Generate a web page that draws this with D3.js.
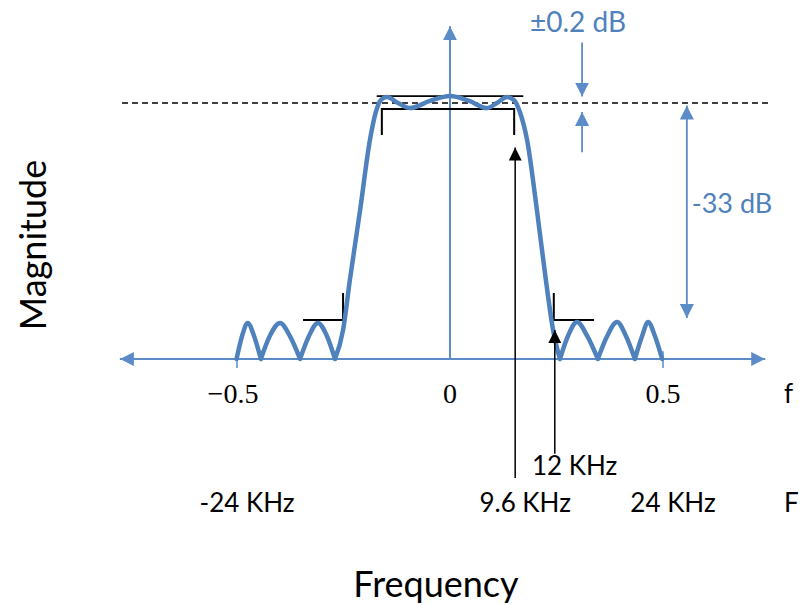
<!DOCTYPE html>
<html>
<head>
<meta charset="utf-8">
<script src="https://cdn.jsdelivr.net/npm/d3@7"></script>
<style>
  body { margin: 0; background: #fff; }
  svg { display: block; }
  .sans { font-family: Lato, "Open Sans", sans-serif; }
  .serif { font-family: "Liberation Serif", "DejaVu Serif", serif; }
</style>
</head>
<body>
<div id="chart"></div>
<script>
// normalised frequency and magnitude (1 = passband level)
const freq = [-0.501, -0.488, -0.475, -0.460, -0.444, -0.423, -0.399, -0.376, -0.352, -0.331, -0.310, -0.289, -0.270,
  -0.251, -0.235, -0.211, -0.188, -0.174, -0.162, -0.148, -0.122, -0.094, -0.047, 0, 0.045, 0.087, 0.110, 0.134,
  0.150, 0.164, 0.181, 0.204, 0.225, 0.242, 0.258, 0.277, 0.298, 0.322, 0.347, 0.369, 0.392, 0.413, 0.434,
  0.451, 0.465, 0.481, 0.498];
const mag = [0, 0.09, 0.141, 0.09, 0, 0.09, 0.141, 0.09, 0, 0.09, 0.141, 0.09, 0,
  0.113, 0.309, 0.582, 0.855, 0.965, 1.012, 1.023, 1.0, 0.98, 1.008, 1.027, 1.008, 0.98, 1.0, 1.023,
  1.012, 0.965, 0.855, 0.582, 0.309, 0.113, 0, 0.09, 0.145, 0.09, 0, 0.09, 0.145, 0.09, 0,
  0.09, 0.145, 0.09, 0];

const tickValues = [-0.5, 0, 0.5];
const tickLabels = ["\u22120.5", "0", "0.5"];
const passEdge = 0.153, stopEdge = 0.246;
const khzLabels = [{f: -0.5, text: "-24 KHz"}, {f: passEdge, text: "9.6 KHz"}, {f: 0.5, text: "24 KHz"}];

const width = 802, height = 605;
const blue = "#4F81BD", axisBlue = "#5B8CC8";

const svg = d3.select("#chart").append("svg")
  .attr("width", width).attr("height", height);

const x = d3.scaleLinear().domain([-0.5, 0.5]).range([237, 663]);
const y = d3.scaleLinear().domain([0, 1]).range([359, 103]);

const defs = svg.append("defs");
function marker(id, color, w, h) {
  defs.append("marker")
    .attr("id", id).attr("viewBox", "0 0 10 10")
    .attr("refX", 10).attr("refY", 5)
    .attr("markerUnits", "userSpaceOnUse")
    .attr("markerWidth", w).attr("markerHeight", h)
    .attr("orient", "auto-start-reverse")
    .append("path").attr("d", "M0,0L10,5L0,10Z").attr("fill", color);
}
marker("ab", axisBlue, 14, 14);
marker("bk", "#000", 13, 13);

// axes
svg.append("line")
  .attr("x1", x(-0.775)).attr("x2", x(0.74))
  .attr("y1", y(0)).attr("y2", y(0))
  .attr("stroke", axisBlue).attr("stroke-width", 2)
  .attr("marker-start", "url(#ab)").attr("marker-end", "url(#ab)");
svg.append("line")
  .attr("x1", x(0)).attr("x2", x(0))
  .attr("y1", y(0)).attr("y2", y(1.3))
  .attr("stroke", axisBlue).attr("stroke-width", 2)
  .attr("marker-end", "url(#ab)");
svg.selectAll(".tick").data([-0.5, 0.5]).join("line")
  .attr("x1", d => x(d)).attr("x2", d => x(d))
  .attr("y1", y(0.03)).attr("y2", y(-0.035))
  .attr("stroke", axisBlue).attr("stroke-width", 1.5);

svg.selectAll(".tlab").data(tickValues).join("text")
  .attr("class", "serif")
  .attr("x", d => x(d) - (d < 0 ? 4 : 0)).attr("y", 403)
  .attr("text-anchor", "middle")
  .style("font-size", "28px")
  .text((d, i) => tickLabels[i]);

// passband level
svg.append("line")
  .attr("x1", 122).attr("x2", 768)
  .attr("y1", y(1)).attr("y2", y(1))
  .attr("stroke", "#000").attr("stroke-width", 1.5)
  .attr("stroke-dasharray", "6,4");

// tolerance brackets
const k = "#000";
svg.append("line").attr("x1", x(-0.172)).attr("x2", x(0.172))
  .attr("y1", y(1.027)).attr("y2", y(1.027)).attr("stroke", k).attr("stroke-width", 1.6);
svg.append("path")
  .attr("d", `M${x(-0.160)},${y(0.875)}V${y(0.977)}H${x(passEdge) - 1}V${y(0.875)}`)
  .attr("fill", "none").attr("stroke", k).attr("stroke-width", 2);
svg.append("path")
  .attr("d", `M${x(-0.345)},${y(0.152)}H${x(-0.251)}V${y(0.258)}`)
  .attr("fill", "none").attr("stroke", k).attr("stroke-width", 2);
svg.append("path")
  .attr("d", `M${x(stopEdge) - 1},${y(0.258)}V${y(0.152)}H${x(0.338)}`)
  .attr("fill", "none").attr("stroke", k).attr("stroke-width", 2);

// response curve: split at the zeros so the troughs stay sharp
const pts = freq.map((f, i) => [f, mag[i]]);
const segs = [];
let cur = [pts[0]];
for (let i = 1; i < pts.length; i++) {
  cur.push(pts[i]);
  if (pts[i][1] === 0) { segs.push(cur); cur = [pts[i]]; }
}
const line = d3.line().x(d => x(d[0])).y(d => y(d[1])).curve(d3.curveMonotoneX);
svg.append("path")
  .attr("fill", "none")
  .attr("stroke", blue)
  .attr("stroke-width", 4.5)
  .attr("stroke-linejoin", "round")
  .attr("stroke-linecap", "round")
  .attr("d", segs.map(s => line(s)).join(""));

// edge arrows
svg.append("line")
  .attr("x1", x(passEdge)).attr("x2", x(passEdge))
  .attr("y1", y(-0.465)).attr("y2", y(0.826))
  .attr("stroke", k).attr("stroke-width", 1.5).attr("marker-end", "url(#bk)");
svg.append("line")
  .attr("x1", x(stopEdge)).attr("x2", x(stopEdge))
  .attr("y1", y(-0.37)).attr("y2", y(0.113))
  .attr("stroke", k).attr("stroke-width", 1.5).attr("marker-end", "url(#bk)");

// ripple / attenuation arrows
svg.append("line")
  .attr("x1", x(0.31)).attr("x2", x(0.31))
  .attr("y1", y(1.236)).attr("y2", y(1.025))
  .attr("stroke", axisBlue).attr("stroke-width", 1.8).attr("marker-end", "url(#ab)");
svg.append("line")
  .attr("x1", x(0.31)).attr("x2", x(0.31))
  .attr("y1", y(0.808)).attr("y2", y(0.965))
  .attr("stroke", axisBlue).attr("stroke-width", 1.8).attr("marker-end", "url(#ab)");
svg.append("line")
  .attr("x1", x(0.556)).attr("x2", x(0.556))
  .attr("y1", y(0.16)).attr("y2", y(0.99))
  .attr("stroke", axisBlue).attr("stroke-width", 1.8)
  .attr("marker-start", "url(#ab)").attr("marker-end", "url(#ab)");

// text
svg.append("text").attr("class", "sans")
  .attr("x", 578).attr("y", 32).attr("text-anchor", "middle")
  .attr("fill", blue).style("font-size", "28px").text("\u00B10.2 dB");
svg.append("text").attr("class", "sans")
  .attr("x", 732).attr("y", 213).attr("text-anchor", "middle")
  .attr("fill", blue).style("font-size", "27px").text("-33 dB");
svg.append("text").attr("class", "sans")
  .attr("x", 784).attr("y", 403)
  .style("font-size", "26px").text("f");
svg.append("text").attr("class", "sans")
  .attr("x", 532).attr("y", 475)
  .style("font-size", "26px").text("12 KHz");
svg.selectAll(".khz").data(khzLabels).join("text")
  .attr("class", "sans")
  .attr("x", d => x(d.f) + 10).attr("y", 512)
  .attr("text-anchor", "middle")
  .style("font-size", "26px")
  .text(d => d.text);
svg.append("text").attr("class", "sans")
  .attr("x", 784).attr("y", 512)
  .style("font-size", "26px").text("F");
svg.append("text").attr("class", "sans")
  .attr("x", 436).attr("y", 597).attr("text-anchor", "middle")
  .style("font-size", "36px").text("Frequency");
svg.append("text").attr("class", "sans")
  .attr("transform", "translate(46,245) rotate(-90)")
  .attr("text-anchor", "middle")
  .style("font-size", "36px").text("Magnitude");
</script>
</body>
</html>
